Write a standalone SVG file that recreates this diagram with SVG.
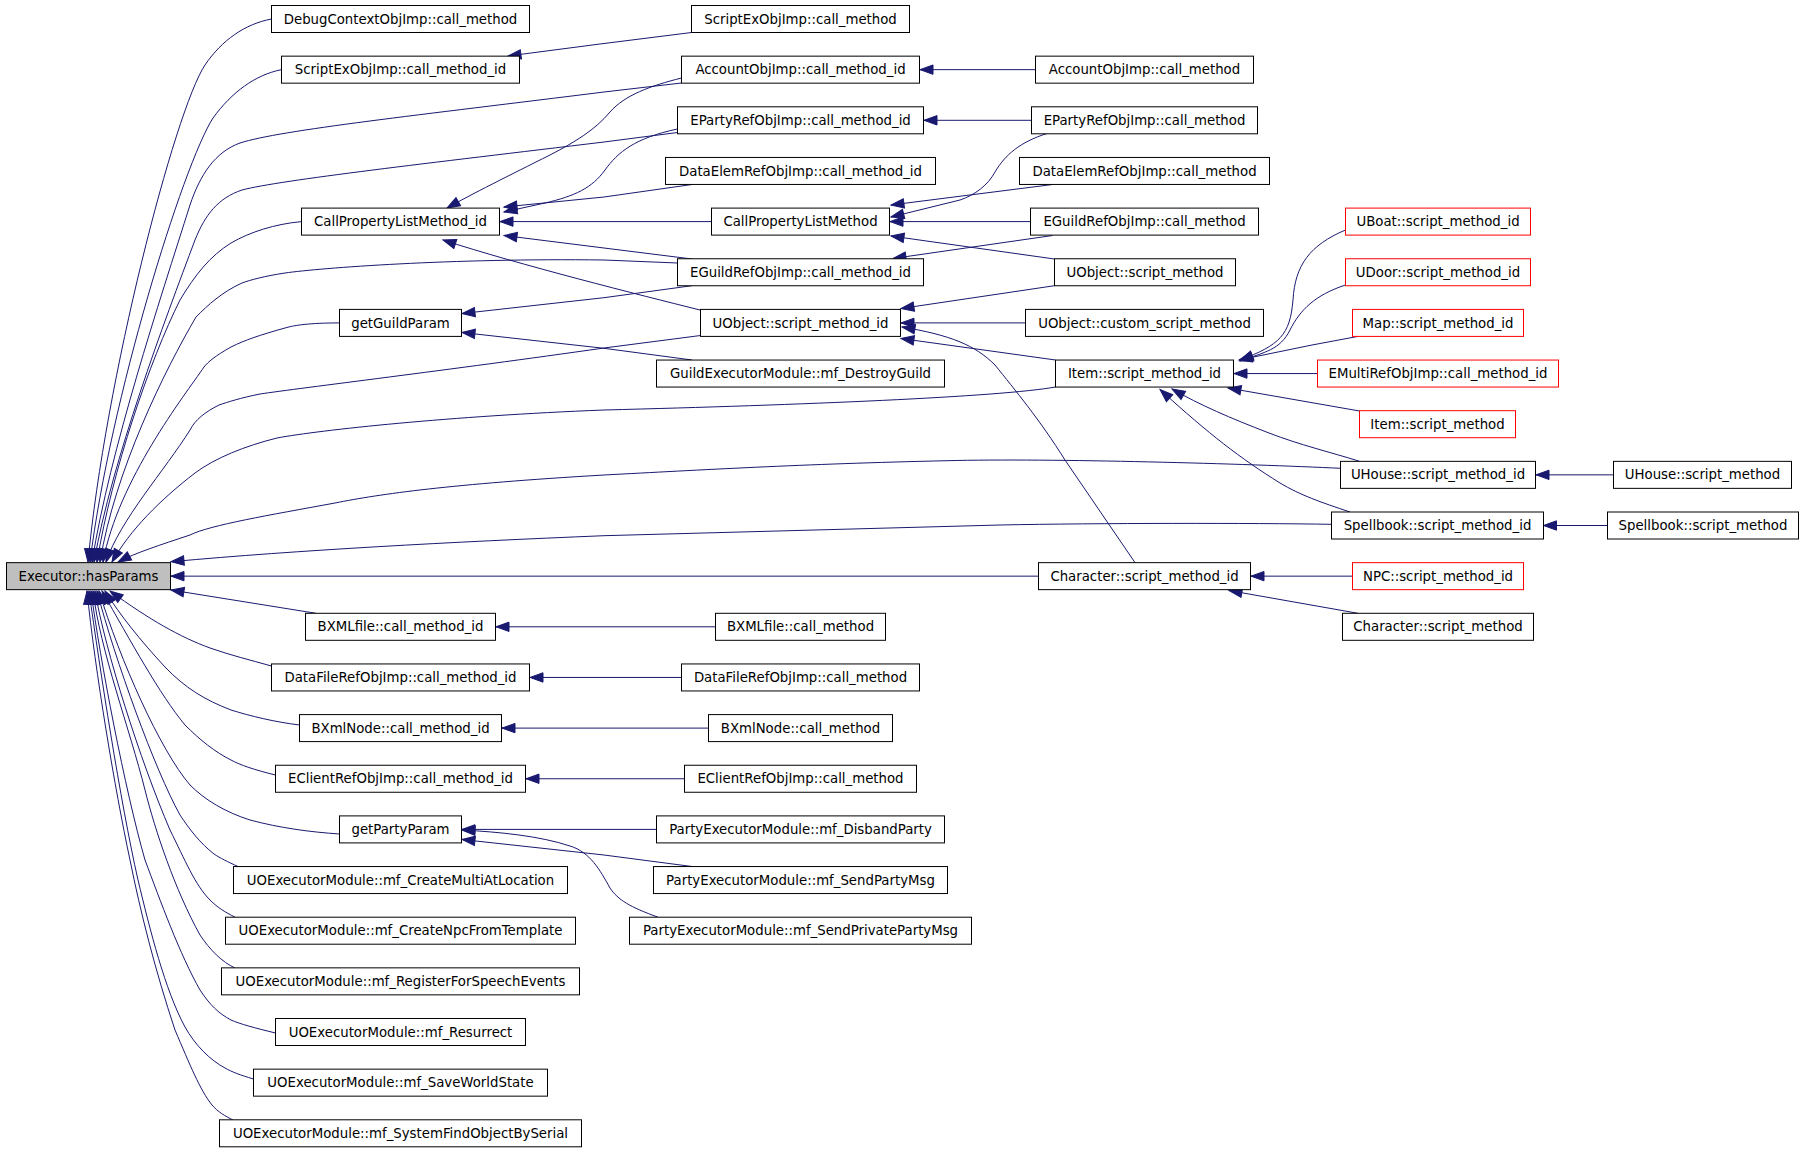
<svg xmlns="http://www.w3.org/2000/svg" width="1811" height="1152" viewBox="0 0 1811 1152">
<style>
.n rect{fill:#fff;stroke:#000;stroke-width:1}
.r rect{stroke:#ff0000}
.g rect{fill:#bfbfbf}
.n text{font-family:"DejaVu Sans","Liberation Sans",sans-serif;font-size:13.3px;text-anchor:middle;fill:#000}
#edges path{fill:none;stroke:#191970;stroke-width:1;marker-end:url(#a)}
</style>
<defs>
<marker id="a" markerUnits="userSpaceOnUse" markerWidth="14" markerHeight="10" refX="13" refY="5" orient="auto" viewBox="0 0 14 10" overflow="visible">
<path d="M0,0.3 L13,5 L0,9.7 z" fill="#191970" stroke="#191970" stroke-width="1"/>
</marker>
</defs>
<rect width="1811" height="1152" fill="#fff"/>
<g id="edges">
<path d="M691.5,32.5 L600,44 L508,56"/>
<path d="M1035.5,69.65 L920,69.65"/>
<path d="M1031.5,120.3 L924,120.3"/>
<path d="M681.5,78 C650,86 625,95 610,112 C595,130 575,142 550,155 C510,175 470,195 447,208"/>
<path d="M677.5,129 C635,138 618,152 605,170 C592,188 575,196 545,203 L504,212"/>
<path d="M692,184.5 L604,197 L504,207"/>
<path d="M711.5,221.6 L500,221.6"/>
<path d="M692,259 L604,248 L504,235.5"/>
<path d="M700,310 C640,295 520,265 443,240"/>
<path d="M1047,133.5 C1020,142 1005,155 995,172 C988,185 975,195 960,200 L891,217"/>
<path d="M1052.6,184.5 L891,205"/>
<path d="M1030.5,221.6 L890,221.6"/>
<path d="M1054.5,259 L891,236"/>
<path d="M1052.6,235.5 L893,258.5"/>
<path d="M1054.5,285.7 L901,308.5"/>
<path d="M1025.5,322.9 L901,322.9"/>
<path d="M1055.5,360 L901,338.5"/>
<path d="M1135,562.6 L1065,460 C1040,420 1015,390 995,365 C975,345 950,335 902,327"/>
<path d="M692,285.7 L604,297.7 L462,313.5"/>
<path d="M692,360 L604,348.3 L462,332.5"/>
<path d="M1345.5,230 C1310,245 1295,265 1293,300 C1290,335 1280,345 1240,360"/>
<path d="M1345.5,285 C1315,295 1300,310 1290,330 C1280,350 1265,352 1240,361"/>
<path d="M1358,336.4 L1312,345 L1239,360"/>
<path d="M1317.5,373.55 L1234,373.55"/>
<path d="M1359.5,411 L1228,388"/>
<path d="M1359.5,461.3 C1330,452 1300,445 1269,433 C1230,418 1200,405 1172,389"/>
<path d="M1350,512 C1320,502 1300,495 1280,483 C1240,458 1210,435 1160,389.5"/>
<path d="M1613.5,474.85 L1536,474.85"/>
<path d="M1607.5,525.5 L1543.5,525.5"/>
<path d="M1352.5,576.15 L1251,576.15"/>
<path d="M1358,613.3 L1229,590.5"/>
<path d="M715.5,626.8 L496,626.8"/>
<path d="M681.5,677.45 L530,677.45"/>
<path d="M708.5,728.1 L502,728.1"/>
<path d="M684.5,778.75 L526,778.75"/>
<path d="M656.5,829.4 L462,829.4"/>
<path d="M692,866.5 L604,855 L462,839.5"/>
<path d="M658,917.2 C630,907 618,900 610,888 C600,870 590,852 570,846 C540,836 500,832 462,830"/>
<path d="M271.5,19 C245,24 222,40 205,65 C175,110 105,380 88,562"/>
<path d="M281.5,69.65 C255,75 232,92 213,118 C183,165 110,400 90,562"/>
<path d="M681.5,83 L604,92 C420,115 280,130 240,143 C215,152 200,175 190,205 C160,300 110,450 92,562"/>
<path d="M677.5,132.5 L604,142 C430,163 280,180 242,190 C218,198 205,215 195,240 C165,320 112,460 94,562"/>
<path d="M301.5,221.6 C275,224 250,232 231,243 C210,256 195,275 180,300 C150,360 112,470 97,562"/>
<path d="M677.5,263 L604,260 C450,258 320,268 285,273 C265,276 250,280 242,283 C222,292 208,305 196,317 C165,370 115,470 100,562"/>
<path d="M339.5,322.9 C310,323 295,325 285,328 C260,335 245,340 231,347 C215,356 208,362 204,367 C185,395 118,480 103,562"/>
<path d="M700.5,335.5 L604,348 C450,370 300,388 260,394 C240,398 228,402 219,405 C205,412 195,420 190,430 C165,470 120,520 106,562"/>
<path d="M1055.5,387 C1000,397 800,405 604,410 C450,416 320,430 277,438 C245,446 215,458 195,473 C160,500 130,530 112,562"/>
<path d="M1340.5,468.3 C1250,464 1050,458 947,460.7 C800,464 700,470 604,475 C450,484 380,494 335,503 C270,515 210,525 190,535 C160,545 135,553 118,562"/>
<path d="M1331.5,524.3 C1250,523 1100,523 1000,525 L604,535.7 C450,542 300,550 171,561.7"/>
<path d="M1038.5,576.15 L171,576.15"/>
<path d="M316,613.3 L171,590"/>
<path d="M271.5,666 C250,660 230,655 210,648 C180,637 150,620 110,591"/>
<path d="M299.5,725 C275,722 250,716 231,710 C205,700 185,688 165,667 C140,640 120,615 105,591"/>
<path d="M275.5,775 C255,770 240,765 231,760 C215,752 200,740 185,725 C160,695 130,640 102,591"/>
<path d="M339.5,834 C310,832 280,828 250,820 C225,812 205,800 190,785 C160,750 120,660 99,591"/>
<path d="M238,866.5 C228,862 220,858 214,854 C200,843 190,830 180,815 C155,770 115,660 97,591"/>
<path d="M235,917.2 C225,912 218,908 210,900 C195,885 185,860 170,830 C140,760 105,650 95,591"/>
<path d="M235,968 C222,962 210,950 200,935 C175,890 155,830 145,790 C130,730 100,650 93,591"/>
<path d="M275.5,1033 C255,1028 240,1024 231,1020 C218,1013 210,1005 200,990 C180,955 160,900 145,860 C125,790 100,660 91,591"/>
<path d="M253.5,1079 C240,1075 232,1072 225,1068 C210,1060 195,1045 185,1027 C165,990 150,930 138,880 C120,800 100,670 89,591"/>
<path d="M233,1120 C225,1116 218,1112 212,1105 C200,1090 190,1065 175,1030 C155,970 140,910 130,860 C115,790 95,670 87,591"/>
</g>
<g id="hasParams" class="n g"><rect x="6.5" y="562.65" width="164" height="27"/><text x="88.5" y="580.75">Executor::hasParams</text></g>
<g id="debug" class="n"><rect x="271.5" y="5.5" width="258" height="27"/><text x="400.5" y="23.6">DebugContextObjImp::call_method</text></g>
<g id="sx_id" class="n"><rect x="281.5" y="56.15" width="238" height="27"/><text x="400.5" y="74.25">ScriptExObjImp::call_method_id</text></g>
<g id="cplm_id" class="n"><rect x="301.5" y="208.1" width="198" height="27"/><text x="400.5" y="226.2">CallPropertyListMethod_id</text></g>
<g id="ggp" class="n"><rect x="339.5" y="309.4" width="122" height="27"/><text x="400.5" y="327.5">getGuildParam</text></g>
<g id="bxf_id" class="n"><rect x="305.5" y="613.3" width="190" height="27"/><text x="400.5" y="631.4">BXMLfile::call_method_id</text></g>
<g id="dfr_id" class="n"><rect x="271.5" y="663.95" width="258" height="27"/><text x="400.5" y="682.05">DataFileRefObjImp::call_method_id</text></g>
<g id="bxn_id" class="n"><rect x="299.5" y="714.6" width="202" height="27"/><text x="400.5" y="732.7">BXmlNode::call_method_id</text></g>
<g id="ecr_id" class="n"><rect x="275.5" y="765.25" width="250" height="27"/><text x="400.5" y="783.35">EClientRefObjImp::call_method_id</text></g>
<g id="gpp" class="n"><rect x="339.5" y="815.9" width="122" height="27"/><text x="400.5" y="834">getPartyParam</text></g>
<g id="uo1" class="n"><rect x="233.5" y="866.55" width="334" height="27"/><text x="400.5" y="884.65">UOExecutorModule::mf_CreateMultiAtLocation</text></g>
<g id="uo2" class="n"><rect x="225.5" y="917.2" width="350" height="27"/><text x="400.5" y="935.3">UOExecutorModule::mf_CreateNpcFromTemplate</text></g>
<g id="uo3" class="n"><rect x="221.5" y="967.85" width="358" height="27"/><text x="400.5" y="985.95">UOExecutorModule::mf_RegisterForSpeechEvents</text></g>
<g id="uo4" class="n"><rect x="275.5" y="1018.5" width="250" height="27"/><text x="400.5" y="1036.6">UOExecutorModule::mf_Resurrect</text></g>
<g id="uo5" class="n"><rect x="253.5" y="1069.15" width="294" height="27"/><text x="400.5" y="1087.25">UOExecutorModule::mf_SaveWorldState</text></g>
<g id="uo6" class="n"><rect x="219.5" y="1119.8" width="362" height="27"/><text x="400.5" y="1137.9">UOExecutorModule::mf_SystemFindObjectBySerial</text></g>
<g id="sx_cm" class="n"><rect x="691.5" y="5.5" width="218" height="27"/><text x="800.5" y="23.6">ScriptExObjImp::call_method</text></g>
<g id="acc_id" class="n"><rect x="681.5" y="56.15" width="238" height="27"/><text x="800.5" y="74.25">AccountObjImp::call_method_id</text></g>
<g id="ep_id" class="n"><rect x="677.5" y="106.8" width="246" height="27"/><text x="800.5" y="124.9">EPartyRefObjImp::call_method_id</text></g>
<g id="de_id" class="n"><rect x="665.5" y="157.45" width="270" height="27"/><text x="800.5" y="175.55">DataElemRefObjImp::call_method_id</text></g>
<g id="cplm" class="n"><rect x="711.5" y="208.1" width="178" height="27"/><text x="800.5" y="226.2">CallPropertyListMethod</text></g>
<g id="eg_id" class="n"><rect x="677.5" y="258.75" width="246" height="27"/><text x="800.5" y="276.85">EGuildRefObjImp::call_method_id</text></g>
<g id="uo_id" class="n"><rect x="700.5" y="309.4" width="200" height="27"/><text x="800.5" y="327.5">UObject::script_method_id</text></g>
<g id="dg" class="n"><rect x="656.5" y="360.05" width="288" height="27"/><text x="800.5" y="378.15">GuildExecutorModule::mf_DestroyGuild</text></g>
<g id="bxf_cm" class="n"><rect x="715.5" y="613.3" width="170" height="27"/><text x="800.5" y="631.4">BXMLfile::call_method</text></g>
<g id="dfr_cm" class="n"><rect x="681.5" y="663.95" width="238" height="27"/><text x="800.5" y="682.05">DataFileRefObjImp::call_method</text></g>
<g id="bxn_cm" class="n"><rect x="708.5" y="714.6" width="184" height="27"/><text x="800.5" y="732.7">BXmlNode::call_method</text></g>
<g id="ecr_cm" class="n"><rect x="684.5" y="765.25" width="232" height="27"/><text x="800.5" y="783.35">EClientRefObjImp::call_method</text></g>
<g id="dp" class="n"><rect x="656.5" y="815.9" width="288" height="27"/><text x="800.5" y="834">PartyExecutorModule::mf_DisbandParty</text></g>
<g id="spm" class="n"><rect x="653.5" y="866.55" width="294" height="27"/><text x="800.5" y="884.65">PartyExecutorModule::mf_SendPartyMsg</text></g>
<g id="sppm" class="n"><rect x="629.5" y="917.2" width="342" height="27"/><text x="800.5" y="935.3">PartyExecutorModule::mf_SendPrivatePartyMsg</text></g>
<g id="acc_cm" class="n"><rect x="1035.5" y="56.15" width="218" height="27"/><text x="1144.5" y="74.25">AccountObjImp::call_method</text></g>
<g id="ep_cm" class="n"><rect x="1031.5" y="106.8" width="226" height="27"/><text x="1144.5" y="124.9">EPartyRefObjImp::call_method</text></g>
<g id="de_cm" class="n"><rect x="1019.5" y="157.45" width="250" height="27"/><text x="1144.5" y="175.55">DataElemRefObjImp::call_method</text></g>
<g id="eg_cm" class="n"><rect x="1030.5" y="208.1" width="228" height="27"/><text x="1144.5" y="226.2">EGuildRefObjImp::call_method</text></g>
<g id="uo_sm" class="n"><rect x="1054.5" y="258.75" width="181" height="27"/><text x="1145" y="276.85">UObject::script_method</text></g>
<g id="uo_csm" class="n"><rect x="1025.5" y="309.4" width="238" height="27"/><text x="1144.5" y="327.5">UObject::custom_script_method</text></g>
<g id="item_id" class="n"><rect x="1055.5" y="360.05" width="178" height="27"/><text x="1144.5" y="378.15">Item::script_method_id</text></g>
<g id="char_id" class="n"><rect x="1038.5" y="562.65" width="212" height="27"/><text x="1144.5" y="580.75">Character::script_method_id</text></g>
<g id="uboat" class="n r"><rect x="1345.5" y="208.1" width="185" height="27"/><text x="1438" y="226.2">UBoat::script_method_id</text></g>
<g id="udoor" class="n r"><rect x="1345.5" y="258.75" width="185" height="27"/><text x="1438" y="276.85">UDoor::script_method_id</text></g>
<g id="map" class="n r"><rect x="1352.5" y="309.4" width="171" height="27"/><text x="1438" y="327.5">Map::script_method_id</text></g>
<g id="emulti" class="n r"><rect x="1317.5" y="360.05" width="241" height="27"/><text x="1438" y="378.15">EMultiRefObjImp::call_method_id</text></g>
<g id="item_sm" class="n r"><rect x="1359.5" y="410.7" width="156" height="27"/><text x="1437.5" y="428.8">Item::script_method</text></g>
<g id="uh_id" class="n"><rect x="1340.5" y="461.35" width="195" height="27"/><text x="1438" y="479.45">UHouse::script_method_id</text></g>
<g id="sb_id" class="n"><rect x="1331.5" y="512" width="212" height="27"/><text x="1437.5" y="530.1">Spellbook::script_method_id</text></g>
<g id="npc" class="n r"><rect x="1352.5" y="562.65" width="171" height="27"/><text x="1438" y="580.75">NPC::script_method_id</text></g>
<g id="char_sm" class="n"><rect x="1342.5" y="613.3" width="191" height="27"/><text x="1438" y="631.4">Character::script_method</text></g>
<g id="uh_sm" class="n"><rect x="1613.5" y="461.35" width="178" height="27"/><text x="1702.5" y="479.45">UHouse::script_method</text></g>
<g id="sb_sm" class="n"><rect x="1607.5" y="512" width="191" height="27"/><text x="1703" y="530.1">Spellbook::script_method</text></g>
</svg>
